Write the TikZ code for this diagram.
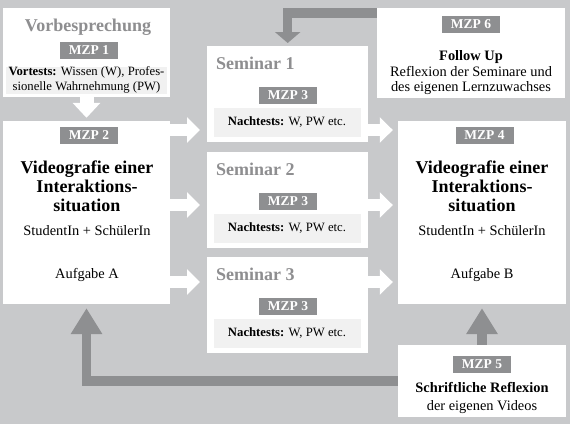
\documentclass[tikz,border=0pt]{standalone}
\usepackage{fontspec}
\setmainfont{Liberation Serif}
\usetikzlibrary{arrows.meta}
\definecolor{bggray}{HTML}{C8C9CB}
\definecolor{mzpgray}{HTML}{8E8F91}
\definecolor{titlegray}{HTML}{8E8E90}
\definecolor{testgray}{HTML}{F1F1F1}

\begin{document}
\begin{tikzpicture}[
  x=1pt, y=-1pt,
  every node/.style={align=center, inner sep=0pt},
  panel/.style={fill=white},
  mzp/.style={fill=mzpgray, text=white, font=\fontsize{13.5}{15}\selectfont\bfseries, minimum width=58pt, minimum height=17pt},
  testbox/.style={fill=testgray, font=\fontsize{12.7}{15}\selectfont},
  heading/.style={text=titlegray, font=\fontsize{18}{20}\selectfont\bfseries},
  bigtext/.style={font=\fontsize{18}{19}\selectfont\bfseries},
  plain/.style={font=\fontsize{14.4}{16}\selectfont},
  wharrow/.style={white, line width=12pt, -{Triangle[length=13pt, width=25pt]}},
  grarrow/.style={mzpgray, line width=9.5pt, -{Triangle[length=26pt, width=30pt]}},
]
\fill[bggray] (0,0) rectangle (570,424);

% Vorbesprechung
\node[panel, minimum width=167pt, minimum height=89pt] (vorb) at (86.5,52.5) {};
\node[heading] (vorbtitle) at (88,27) {Vorbesprechung};
\node[mzp] (mzp1) at (89,50) {MZP 1};
\node[testbox, minimum width=161pt, minimum height=27pt] (vortest) at (86.5,80)
  {\textbf{Vortests:} Wissen (W), Profes-\\sionelle Wahrnehmung (PW)};

% Videografie A
\node[panel, minimum width=167pt, minimum height=183pt] (video1) at (86.5,212.5) {};
\node[mzp] (mzp2) at (89,135) {MZP 2};
\node[bigtext] (video1title) at (87,186) {Videografie einer\\Interaktions-\\situation};
\node[plain] (video1who) at (87,231) {StudentIn + SchülerIn};
\node[plain] (video1task) at (87,275) {Aufgabe A};

% Seminare
\foreach \i/\y in {1/46, 2/152, 3/257} {
  \node[panel, minimum width=161pt, minimum height=96pt, anchor=north west] (sem\i) at (207,\y) {};
  \node[heading, anchor=west] (semtitle\i) at (216,\y+17) {Seminar \i};
  \node[mzp] (mzp3\i) at (288,\y+49) {MZP 3};
  \node[testbox, minimum width=147pt, minimum height=29pt] (nach\i) at (287,\y+76) {\textbf{Nachtests:} W, PW etc.};
}

% Follow Up
\node[panel, minimum width=188pt, minimum height=90pt] (follow) at (471,53) {};
\node[mzp] (mzp6) at (471,24) {MZP 6};
\node[plain, font=\fontsize{14.4}{15.5}\selectfont] (followtext) at (471,73)
  {\textbf{Follow Up}\\Reflexion der Seminare und\\des eigenen Lernzuwachses};

% Videografie B
\node[panel, minimum width=168pt, minimum height=183pt] (video2) at (482,212.5) {};
\node[mzp] (mzp4) at (484.5,135) {MZP 4};
\node[bigtext] (video2title) at (482,186) {Videografie einer\\Interaktions-\\situation};
\node[plain] (video2who) at (482,231) {StudentIn + SchülerIn};
\node[plain] (video2task) at (482,275) {Aufgabe B};

% Reflexion
\node[panel, minimum width=168pt, minimum height=72pt] (reflex) at (482,381) {};
\node[mzp] (mzp5) at (482,364) {MZP 5};
\node[plain, font=\fontsize{14.4}{18}\selectfont] (reflextext) at (482,398)
  {\textbf{Schriftliche Reflexion}\\der eigenen Videos};

% arrows
\draw[wharrow, line width=14pt, -{Triangle[length=15pt, width=27pt]}, shorten >=3pt] (vorb.south) -- (video1.north);
\foreach \i/\y in {1/130, 2/205, 3/282} {
  \draw[wharrow, shorten >=7pt] (video1.east |- 0,\y) -- (sem\i.west |- 0,\y);
  \draw[wharrow, shorten >=5pt] (sem\i.east |- 0,\y) -- (video2.west |- 0,\y);
}
\draw[grarrow, -{Triangle[length=11pt, width=25pt]}, shorten >=3pt] (follow.west |- 0,13) -| (sem1.north);
\draw[grarrow, shorten >=4pt] (reflex.west) -| (video1.south);
\draw[grarrow, shorten >=4pt] (reflex.north) -- (video2.south);
\end{tikzpicture}
\end{document}
